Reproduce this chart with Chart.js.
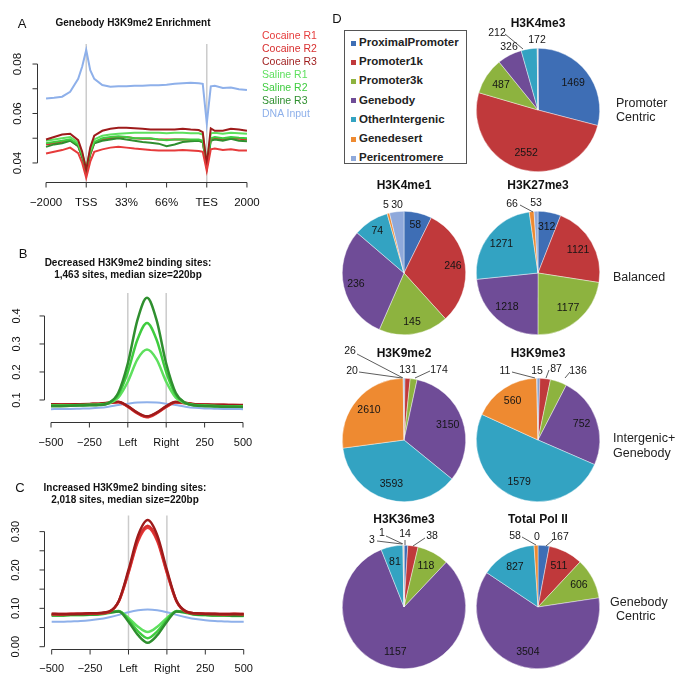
<!DOCTYPE html>
<html><head><meta charset="utf-8">
<script src="https://cdn.jsdelivr.net/npm/chart.js@4/dist/chart.umd.min.js"></script>
<style>
body{margin:0;background:#fff;}
#wrap{position:relative;width:685px;height:683px;overflow:hidden;font-family:"Liberation Sans",Arial,sans-serif;color:#111;background:#fff;}
canvas{position:absolute;}
.t{position:absolute;white-space:nowrap;line-height:1;}
#lg{position:absolute;left:344px;top:30px;width:123px;height:134px;border:1px solid #555;box-sizing:border-box;}
</style></head><body><div id="wrap">
<canvas id="cA" width="330" height="215" style="left:0;top:0"></canvas>
<canvas id="cB" width="260" height="240" style="left:0;top:220px"></canvas>
<canvas id="cC" width="260" height="233" style="left:0;top:450px"></canvas>
<div id="lg"></div>
</div>
<script>
// ---------- DATA ----------
const seriesNames = ['Cocaine R1','Cocaine R2','Cocaine R3','Saline R1','Saline R2','Saline R3','DNA Input'];
// Panel A: metagene profile (x: 0 = -2000, 20 = TSS, 80 = TES, 100 = +2000)
const profileTicks = [0, 20, 40, 60, 80, 100];
const profileTickLabels = ['\u22122000','TSS','33%','66%','TES','2000'];
const profileYTicks = [0.04, 0.05, 0.06, 0.07, 0.08];
const profileYLabels = ['0.04','','0.06','','0.08'];
const profileX = [0,4,8,12,16,18,20,22,24,28,32,36,40,44,48,52,56,60,64,68,72,76,78,80,82,84,88,92,96,100];
const cocR1A = [0.0438,0.0445,0.0452,0.0462,0.0440,0.0400,0.0340,0.0405,0.0445,0.0455,0.0462,0.0466,0.0462,0.0458,0.0455,0.0452,0.0450,0.0450,0.0450,0.0452,0.0450,0.0448,0.0445,0.0368,0.0455,0.0458,0.0452,0.0455,0.0450,0.0450];
const cocR2A = [0.0475,0.0480,0.0486,0.0492,0.0468,0.0425,0.0355,0.0432,0.0480,0.0495,0.0500,0.0505,0.0505,0.0500,0.0498,0.0498,0.0495,0.0495,0.0495,0.0495,0.0493,0.0490,0.0485,0.0385,0.0495,0.0500,0.0495,0.0500,0.0498,0.0495];
const cocR3A = [0.0495,0.0505,0.0515,0.0518,0.0492,0.0445,0.0372,0.0462,0.0510,0.0530,0.0538,0.0542,0.0542,0.0540,0.0538,0.0535,0.0535,0.0535,0.0535,0.0538,0.0535,0.0533,0.0525,0.0390,0.0540,0.0530,0.0530,0.0538,0.0535,0.0530];
const salR1A = [0.0490,0.0495,0.0500,0.0505,0.0482,0.0438,0.0380,0.0452,0.0495,0.0510,0.0515,0.0518,0.0520,0.0522,0.0522,0.0522,0.0522,0.0520,0.0522,0.0522,0.0520,0.0520,0.0515,0.0400,0.0520,0.0522,0.0518,0.0522,0.0520,0.0518];
const salR2A = [0.0480,0.0485,0.0490,0.0496,0.0475,0.0432,0.0375,0.0442,0.0485,0.0500,0.0505,0.0508,0.0505,0.0500,0.0500,0.0500,0.0495,0.0492,0.0495,0.0495,0.0495,0.0495,0.0490,0.0390,0.0500,0.0505,0.0500,0.0505,0.0502,0.0500];
const salR3A = [0.0465,0.0475,0.0480,0.0490,0.0468,0.0422,0.0365,0.0437,0.0480,0.0490,0.0495,0.0500,0.0495,0.0490,0.0485,0.0482,0.0478,0.0468,0.0475,0.0485,0.0488,0.0490,0.0485,0.0380,0.0490,0.0495,0.0490,0.0498,0.0490,0.0488];
const inputA = [0.0661,0.0664,0.0668,0.0688,0.0740,0.0790,0.0857,0.0775,0.0740,0.0715,0.0708,0.0710,0.0710,0.0712,0.0712,0.0714,0.0714,0.0716,0.0720,0.0722,0.0724,0.0722,0.0720,0.0560,0.0710,0.0712,0.0703,0.0705,0.0698,0.0695];

// Panels B, C: binding-site profiles (x: 0 = -500, 40 = Left, 60 = Right, 100 = +500)
const siteTicks = [0, 20, 40, 60, 80, 100];
const siteTickLabels = ['\u2212500','\u2212250','Left','Right','250','500'];
const siteX = [0,5,10,15,20,25,30,35,40,45,50,55,60,65,70,75,80,85,90,95,100];
const bYTicks = [0.1, 0.2, 0.3, 0.4];
const bYLabels = ['0.1','0.2','0.3','0.4'];
const cocR1B = [0.083,0.083,0.083,0.084,0.085,0.086,0.089,0.092,0.077,0.054,0.040,0.054,0.076,0.091,0.088,0.084,0.083,0.082,0.082,0.081,0.081];
const cocR2B = [0.084,0.083,0.084,0.084,0.085,0.086,0.089,0.093,0.076,0.052,0.038,0.052,0.075,0.092,0.089,0.085,0.083,0.082,0.082,0.082,0.081];
const cocR3B = [0.085,0.084,0.084,0.085,0.086,0.087,0.090,0.094,0.078,0.055,0.042,0.055,0.078,0.094,0.090,0.085,0.084,0.083,0.083,0.082,0.082];
const salR1B = [0.080,0.080,0.081,0.082,0.083,0.084,0.090,0.118,0.200,0.315,0.375,0.315,0.200,0.118,0.090,0.082,0.080,0.079,0.078,0.078,0.077];
const salR2B = [0.079,0.079,0.080,0.081,0.082,0.083,0.088,0.108,0.165,0.245,0.280,0.245,0.165,0.108,0.088,0.081,0.079,0.078,0.078,0.077,0.077];
const salR3B = [0.078,0.078,0.079,0.080,0.081,0.082,0.089,0.125,0.230,0.385,0.465,0.385,0.230,0.125,0.089,0.080,0.078,0.077,0.076,0.076,0.075];
const inputB = [0.067,0.068,0.068,0.069,0.070,0.072,0.076,0.082,0.087,0.091,0.092,0.091,0.087,0.082,0.076,0.072,0.070,0.069,0.068,0.068,0.067];

const cYTicks = [0, 0.05, 0.10, 0.15, 0.20, 0.25, 0.30];
const cYLabels = ['0.00','','0.10','','0.20','','0.30'];
const cocR1C = [0.085,0.085,0.086,0.086,0.087,0.087,0.091,0.118,0.192,0.275,0.310,0.275,0.192,0.118,0.091,0.087,0.086,0.085,0.085,0.086,0.085];
const cocR2C = [0.084,0.084,0.085,0.085,0.086,0.087,0.091,0.119,0.195,0.280,0.315,0.280,0.195,0.119,0.091,0.087,0.085,0.085,0.084,0.085,0.084];
const cocR3C = [0.086,0.085,0.085,0.086,0.087,0.088,0.092,0.120,0.200,0.290,0.330,0.290,0.200,0.120,0.092,0.087,0.086,0.086,0.085,0.085,0.085];
const salR1C = [0.081,0.081,0.082,0.082,0.083,0.084,0.088,0.092,0.075,0.052,0.038,0.052,0.075,0.092,0.088,0.083,0.082,0.081,0.081,0.080,0.080];
const salR2C = [0.083,0.083,0.084,0.084,0.085,0.086,0.090,0.093,0.070,0.040,0.022,0.040,0.070,0.093,0.090,0.085,0.084,0.083,0.083,0.082,0.082];
const salR3C = [0.082,0.082,0.083,0.083,0.084,0.085,0.089,0.092,0.065,0.030,0.010,0.030,0.065,0.092,0.089,0.084,0.083,0.082,0.082,0.081,0.081];
const inputC = [0.065,0.065,0.066,0.067,0.069,0.072,0.077,0.083,0.090,0.095,0.097,0.095,0.090,0.083,0.077,0.072,0.069,0.067,0.066,0.065,0.065];

// Panel D: peak counts per genomic region
const regions = ['ProximalPromoter','Promoter1k','Promoter3k','Genebody','OtherIntergenic','Genedesert','Pericentromere'];
const marks = ['H3K4me3','H3K4me1','H3K27me3','H3K9me2','H3K9me3','H3K36me3','Total Pol II'];
// H3K4me3: the two slivers at 12 o'clock are too thin to read; the figure prints "172" beside them
const k4me3  = [1469, 2552, 487, 326, 212, 6, 4];
const k4me1  = [58, 246, 145, 236, 74, 5, 30];
const k27me3 = [312, 1121, 1177, 1218, 1271, 66, 53];
const k9me2  = [26, 131, 174, 3150, 3593, 2610, 20];
const k9me3  = [15, 87, 136, 752, 1579, 560, 11];
const k36me3 = [14, 38, 118, 1157, 81, 3, 1];
const polII  = [167, 511, 606, 3504, 827, 58, 0];
const groupNames = [['Promoter','Centric'],['Balanced'],['Intergenic+','Genebody'],['Genebody','Centric']];

// ---------- STYLE ----------
const FONT = '"Liberation Sans", Arial, sans-serif';
Chart.defaults.font.family = FONT;
const C_COC1='#e63b3b', C_COC2='#d82f2f', C_COC3='#9e1b1b', C_SAL1='#5ee05e', C_SAL2='#3fcc3f', C_SAL3='#2f8f2f', C_IN='#8eb0ea';
const regionColors = ['#3e6eb5','#c0393b','#8db33f','#6f4c97','#33a3c2','#ee8a31','#8fa9db'];

const wrap = document.getElementById('wrap');
function txt(s, x, y, css, anchor){
  const d=document.createElement('div'); d.className='t'; d.textContent=s;
  d.style.cssText += css||'';
  d.style.left=x+'px'; d.style.top=y+'px';
  d.style.transform = anchor==='left' ? 'translate(0,-50%)' : 'translate(-50%,-50%)';
  wrap.appendChild(d); return d;
}

// R-style detached axes, drawn from the chart's own scales
const rAxes = {
  id:'rAxes',
  beforeDatasetsDraw(chart, args, o){
    const ctx=chart.ctx, a=chart.chartArea, xs=chart.scales.x;
    ctx.save(); ctx.strokeStyle='#cbcbcb'; ctx.lineWidth=1.5;
    (o.vlines||[]).forEach(v=>{const px=xs.getPixelForValue(v); ctx.beginPath(); ctx.moveTo(px,a.top); ctx.lineTo(px,a.bottom); ctx.stroke();});
    ctx.restore();
  },
  afterDraw(chart, args, o){
    const ctx=chart.ctx, a=chart.chartArea, xs=chart.scales.x, ys=chart.scales.y;
    ctx.save(); ctx.strokeStyle='#333'; ctx.lineWidth=1; ctx.fillStyle='#111';
    ctx.font = o.font; ctx.textAlign='center'; ctx.textBaseline='middle';
    const y0=Math.round(a.bottom)+0.5;
    const xp=o.xTicks.map(v=>xs.getPixelForValue(v));
    ctx.beginPath(); ctx.moveTo(xp[0],y0); ctx.lineTo(xp[xp.length-1],y0);
    xp.forEach(p=>{ctx.moveTo(p,y0); ctx.lineTo(p,y0+5);}); ctx.stroke();
    xp.forEach((p,i)=>ctx.fillText(o.xLabels[i], p, y0+o.xOff));
    const x0=Math.round(a.left)+0.5;
    const yp=o.yTicks.map(v=>ys.getPixelForValue(v));
    ctx.beginPath(); ctx.moveTo(x0,yp[0]); ctx.lineTo(x0,yp[yp.length-1]);
    yp.forEach(p=>{ctx.moveTo(x0,p); ctx.lineTo(x0-5,p);}); ctx.stroke();
    yp.forEach((p,i)=>{ if(!o.yLabels[i]) return; ctx.save(); ctx.translate(x0-o.yOff,p); ctx.rotate(-Math.PI/2); ctx.fillText(o.yLabels[i],0,0); ctx.restore();});
    ctx.restore();
  }
};

function lineChart(id, xs, series, c){
  new Chart(document.getElementById(id), {
    type:'line',
    data:{datasets: series.map(s=>({label:s.n, data: xs.map((x,i)=>({x, y:s.v[i]})), borderColor:s.c, borderWidth:s.w, pointRadius:0, fill:false,
      cubicInterpolationMode: c.mono?'monotone':'default', tension: c.mono?0.4:0}))},
    options:{responsive:false, animation:false, events:[], layout:{padding:c.pad},
      plugins:{legend:{display:false}, tooltip:{enabled:false}, rAxes:c.axes},
      scales:{x:{type:'linear', min:c.xmin, max:c.xmax, display:false}, y:{type:'linear', min:c.ymin, max:c.ymax, display:false}}},
    plugins:[rAxes]
  });
}

// Panel A
lineChart('cA', profileX, [
  {n:seriesNames[6], v:inputA, c:C_IN, w:2},
  {n:seriesNames[0], v:cocR1A, c:C_COC1, w:2},
  {n:seriesNames[2], v:cocR3A, c:C_COC3, w:2},
  {n:seriesNames[3], v:salR1A, c:C_SAL1, w:2},
  {n:seriesNames[4], v:salR2A, c:C_SAL2, w:2},
  {n:seriesNames[5], v:salR3A, c:C_SAL3, w:2},
  {n:seriesNames[1], v:cocR2A, c:C_COC2, w:2},
], {pad:{left:37, top:44, right:75, bottom:33}, xmin:-4.5, xmax:104, ymin:0.0323, ymax:0.0881, mono:false,
    axes:{xTicks:profileTicks, xLabels:profileTickLabels, yTicks:profileYTicks, yLabels:profileYLabels, xOff:20, yOff:20, font:'11.5px '+FONT, vlines:[20,80]}});

// Panel B
lineChart('cB', siteX, [
  {n:seriesNames[5], v:salR3B, c:C_SAL3, w:2.5},
  {n:seriesNames[3], v:salR1B, c:C_SAL2, w:2.5},
  {n:seriesNames[4], v:salR2B, c:C_SAL1, w:2.5},
  {n:seriesNames[2], v:cocR3B, c:C_COC3, w:2.5},
  {n:seriesNames[1], v:cocR2B, c:C_COC2, w:2.5},
  {n:seriesNames[0], v:cocR1B, c:C_COC1, w:2.5},
  {n:seriesNames[6], v:inputB, c:C_IN, w:2},
], {pad:{left:44, top:73, right:10, bottom:38}, xmin:-3.65, xmax:103.65, ymin:0.0214, ymax:0.482, mono:true,
    axes:{xTicks:siteTicks, xLabels:siteTickLabels, yTicks:bYTicks, yLabels:bYLabels, xOff:20, yOff:28, font:'11px '+FONT, vlines:[40,60]}});

// Panel C
lineChart('cC', siteX, [
  {n:seriesNames[2], v:cocR3C, c:C_COC3, w:2.5},
  {n:seriesNames[1], v:cocR2C, c:C_COC2, w:2.5},
  {n:seriesNames[0], v:cocR1C, c:C_COC1, w:2.5},
  {n:seriesNames[5], v:salR3C, c:C_SAL3, w:2.5},
  {n:seriesNames[4], v:salR2C, c:C_SAL2, w:2.5},
  {n:seriesNames[3], v:salR1C, c:C_SAL1, w:2.5},
  {n:seriesNames[6], v:inputC, c:C_IN, w:2},
], {pad:{left:44, top:65.5, right:9, bottom:34}, xmin:-4.0, xmax:103.8, ymin:-0.006, ymax:0.342, mono:true,
    axes:{xTicks:siteTicks, xLabels:siteTickLabels, yTicks:cYTicks, yLabels:cYLabels, xOff:19, yOff:29, font:'11px '+FONT, vlines:[40,60]}});

// Panel text
txt('A', 22, 23, 'font-size:13px;');
txt('Genebody H3K9me2 Enrichment', 133, 23, 'font-size:10px;font-weight:bold;');
const legColA=[C_COC1,C_COC2,C_COC3,C_SAL1,C_SAL2,C_SAL3,C_IN];
seriesNames.forEach((n,i)=>txt(n, 262, 35+13*i, 'font-size:10.5px;color:'+legColA[i]+';', 'left'));
txt('B', 23, 253, 'font-size:13px;');
txt('Decreased H3K9me2 binding sites:', 128, 263, 'font-size:10px;font-weight:bold;');
txt('1,463 sites, median size=220bp', 128, 274.5, 'font-size:10px;font-weight:bold;');
txt('C', 20, 487, 'font-size:13px;');
txt('Increased H3K9me2 binding sites:', 125, 487.5, 'font-size:10px;font-weight:bold;');
txt('2,018 sites, median size=220bp', 125, 499.5, 'font-size:10px;font-weight:bold;');
txt('D', 337, 18, 'font-size:13px;');

// Legend D
const lg=document.getElementById('lg');
regions.forEach((r,i)=>{
  const sq=document.createElement('div');
  sq.style.cssText='position:absolute;left:6px;width:5px;height:5px;background:'+regionColors[i]+';top:'+(12+19.2*i-2.5)+'px';
  lg.appendChild(sq);
  const t=document.createElement('div'); t.className='t'; t.textContent=r;
  t.style.cssText+='left:14px;top:'+(12+19.2*i)+'px;transform:translate(0,-50%);font-size:11.5px;font-weight:bold;color:#222;';
  lg.appendChild(t);
});

// Pie label plugin (uses the arcs laid out by Chart.js)
const pieLabels = {
  id:'pieLabels',
  afterDatasetsDraw(chart, args, o){
    const ctx=chart.ctx, meta=chart.getDatasetMeta(0), vals=chart.data.datasets[0].data;
    ctx.save(); ctx.font='10.5px '+FONT; ctx.fillStyle='#151515'; ctx.textAlign='center'; ctx.textBaseline='middle';
    ctx.strokeStyle='#333'; ctx.lineWidth=0.8;
    meta.data.forEach((arc,i)=>{
      const p=arc.getProps(['x','y','startAngle','endAngle','outerRadius'],true);
      const co=o.callouts[i];
      if(co){
        if(co.line){ctx.beginPath(); ctx.moveTo(p.x+co.line[0],p.y+co.line[1]); ctx.lineTo(p.x+co.line[2],p.y+co.line[3]); ctx.stroke();}
        ctx.fillText(co.text!==undefined?co.text:String(vals[i]), p.x+co.dx, p.y+co.dy);
      } else if(!(o.hide||[]).includes(i)){
        const m=(p.startAngle+p.endAngle)/2, r=p.outerRadius*o.f;
        ctx.fillText(String(vals[i]), p.x+Math.cos(m)*r, p.y+Math.sin(m)*r);
      }
    });
    ctx.restore();
  }
};

const pies = [
  {name:marks[0], v:k4me3, cx:538, cy:110, f:0.72, hide:[5], callouts:{3:{dx:-29,dy:-63}, 4:{dx:-41,dy:-77,line:[-33,-76,-15,-61]}, 6:{dx:-1,dy:-70,text:'172'}}},
  {name:marks[1], v:k4me1, cx:404, cy:273, f:0.8, callouts:{5:{dx:-18,dy:-68}, 6:{dx:-7,dy:-68}}},
  {name:marks[2], v:k27me3, cx:538, cy:273, f:0.75, callouts:{5:{dx:-26,dy:-69,line:[-18,-68,-5,-61]}, 6:{dx:-2,dy:-70}}},
  {name:marks[3], v:k9me2, cx:404, cy:440, f:0.75, callouts:{0:{dx:-54,dy:-89,line:[-47,-86,-1,-62]}, 6:{dx:-52,dy:-69,line:[-45,-68,-2,-62]}, 1:{dx:4,dy:-70}, 2:{dx:35,dy:-70,line:[26,-69,11,-62]}}},
  {name:marks[4], v:k9me3, cx:538, cy:440, f:0.75, callouts:{6:{dx:-33,dy:-69,line:[-26,-68,-3,-62]}, 0:{dx:-1,dy:-69}, 1:{dx:18,dy:-71,line:[11,-70,8,-62]}, 2:{dx:40,dy:-69,line:[32,-68,27,-62]}}},
  {name:marks[5], v:k36me3, cx:404, cy:607, f:0.75, callouts:{5:{dx:-32,dy:-67,line:[-27,-66,-2,-63]}, 6:{dx:-22,dy:-74,line:[-18,-71,-1,-63]}, 0:{dx:1,dy:-73,line:[1,-67,1,-62]}, 1:{dx:28,dy:-71,line:[21,-69,9,-61]}}},
  {name:marks[6], v:polII, cx:538, cy:607, f:0.75, callouts:{5:{dx:-23,dy:-71,line:[-16,-70,-2,-62]}, 6:{dx:-1,dy:-70}, 0:{dx:22,dy:-70,line:[15,-67,8,-61]}}},
];
const titleY=[23,185,185,353,353,519,519];
pies.forEach((pc,k)=>{
  const cv=document.createElement('canvas'); cv.width=180; cv.height=170;
  cv.style.left=(pc.cx-90)+'px'; cv.style.top=(pc.cy-95)+'px'; wrap.appendChild(cv);
  const R=62;
  new Chart(cv, {type:'pie',
    data:{labels:regions, datasets:[{data:pc.v, backgroundColor:regionColors, borderColor:'rgba(255,255,255,0.7)', borderWidth:0.6}]},
    options:{responsive:false, animation:false, events:[], layout:{padding:{left:90-R, right:90-R, top:95-R, bottom:170-95-R}},
      plugins:{legend:{display:false}, tooltip:{enabled:false}, pieLabels:{f:pc.f, hide:pc.hide, callouts:pc.callouts}}},
    plugins:[pieLabels]});
  txt(pc.name, pc.cx, titleY[k], 'font-size:12px;font-weight:bold;');
});
txt(groupNames[0][0], 616, 103, 'font-size:12.5px;color:#222;', 'left');
txt(groupNames[0][1], 616, 117, 'font-size:12.5px;color:#222;', 'left');
txt(groupNames[1][0], 613, 277, 'font-size:12.5px;color:#222;', 'left');
txt(groupNames[2][0], 613, 438, 'font-size:12.5px;color:#222;', 'left');
txt(groupNames[2][1], 613, 452.5, 'font-size:12.5px;color:#222;', 'left');
txt(groupNames[3][0], 610, 602, 'font-size:12.5px;color:#222;', 'left');
txt(groupNames[3][1], 616, 616, 'font-size:12.5px;color:#222;', 'left');
</script>
</body></html>
